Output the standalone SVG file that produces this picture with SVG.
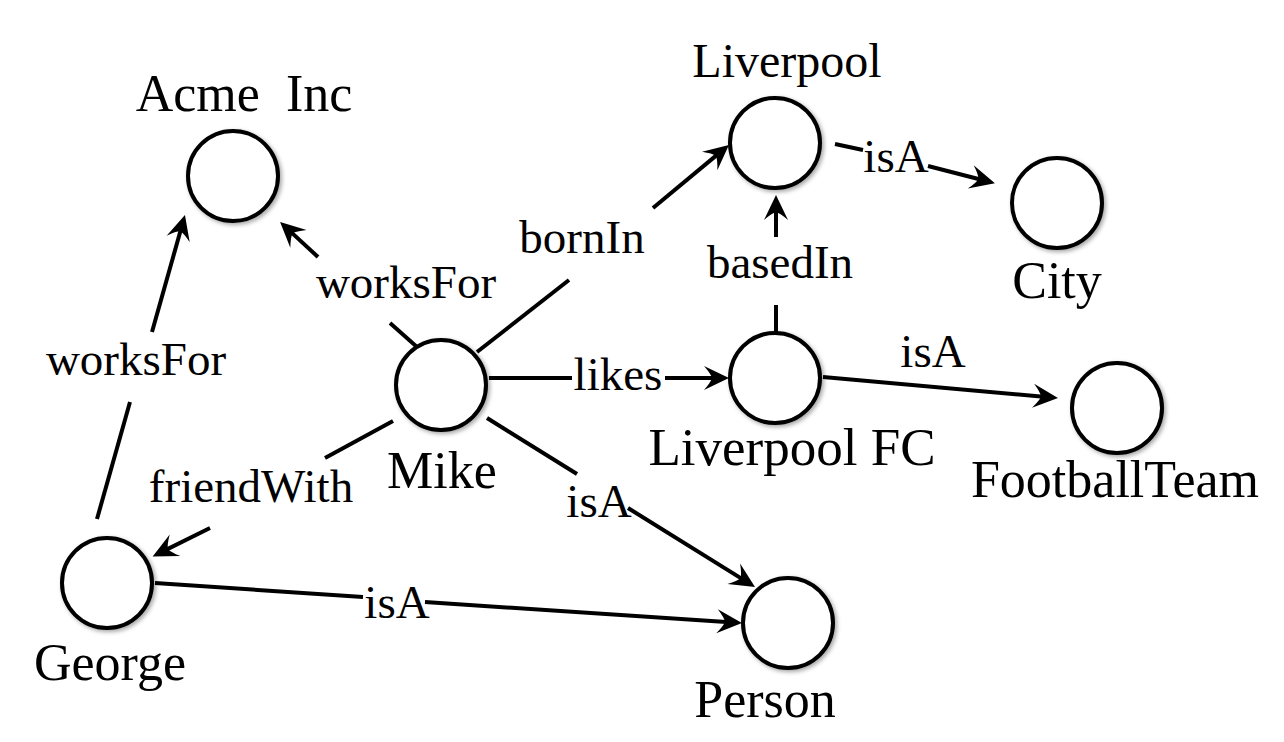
<svg xmlns="http://www.w3.org/2000/svg" width="1284" height="742" viewBox="0 0 1284 742">
<style>
.node circle{fill:#fff;stroke:#000;stroke-width:4;filter:url(#sh)}
text{font-family:"Liberation Serif","Times New Roman",serif;fill:#000;text-anchor:middle}
.nl{font-size:52px}
.el{font-size:47px}
.edge line{stroke:#000;stroke-width:4;fill:none}
.arr{marker-end:url(#ah)}
</style>
<defs>
<filter id="sh" x="-30%" y="-30%" width="160%" height="160%">
<feDropShadow dx="2" dy="2" stdDeviation="2" flood-color="#000" flood-opacity="0.35"/>
</filter>
<marker id="ah" markerUnits="userSpaceOnUse" viewBox="-26 -13 27 26" markerWidth="27" markerHeight="26" refX="-12" refY="0" orient="auto" overflow="visible">
<path d="M0,0 L-25,-12 Q-18,-4 -17,0 Q-18,4 -25,12 Z" fill="#000"/>
</marker>
</defs>
<rect width="1284" height="742" fill="#fff"/>
<g id="connectors" class="edge">
<line x1="417" y1="347" x2="390" y2="323"/>
<line class="arr" x1="318" y1="257" x2="288.9" y2="230.1"/>
<line x1="97" y1="519" x2="130" y2="402"/>
<line class="arr" x1="152" y1="332" x2="181.7" y2="226.5"/>
<line x1="393" y1="421" x2="325" y2="458"/>
<line class="arr" x1="210" y1="528" x2="163.4" y2="551.1"/>
<line x1="477" y1="352" x2="569" y2="280"/>
<line class="arr" x1="653" y1="208" x2="719.7" y2="152.6"/>
<line x1="489" y1="378" x2="572" y2="378"/>
<line class="arr" x1="665" y1="378" x2="717" y2="378"/>
<line x1="776" y1="332" x2="776" y2="305"/>
<line class="arr" x1="776" y1="237" x2="776" y2="207"/>
<line x1="835" y1="144" x2="863" y2="150"/>
<line class="arr" x1="928" y1="166" x2="983.3" y2="180.2"/>
<line class="arr" x1="823" y1="377" x2="1046" y2="396.9"/>
<line x1="487" y1="418" x2="577" y2="474"/>
<line class="arr" x1="628" y1="508" x2="744.8" y2="580.6"/>
<line x1="155" y1="583" x2="363" y2="597"/>
<line class="arr" x1="425" y1="602" x2="730" y2="622.2"/>
<text class="el" x="406" y="298">worksFor</text>
<text class="el" x="136" y="375">worksFor</text>
<text class="el" x="251" y="502">friendWith</text>
<text class="el" x="582" y="253">bornIn</text>
<text class="el" x="780" y="278">basedIn</text>
<text class="el" x="618" y="390">likes</text>
<text class="el" x="896" y="172">isA</text>
<text class="el" x="933" y="367">isA</text>
<text class="el" x="599" y="517">isA</text>
<text class="el" x="397" y="618">isA</text>
</g>
<g id="acme" class="node"><circle cx="233" cy="176" r="45"/><text class="nl" x="244" y="111">Acme&#160; Inc</text></g>
<g id="liverpool" class="node"><circle cx="775" cy="143" r="45"/><text class="nl" x="787" y="77" style="font-size:48px">Liverpool</text></g>
<g id="city" class="node"><circle cx="1057" cy="203" r="45"/><text class="nl" x="1057" y="298">City</text></g>
<g id="mike" class="node"><circle cx="441" cy="385" r="45"/><text class="nl" x="442" y="488">Mike</text></g>
<g id="liverpoolfc" class="node"><circle cx="775" cy="378" r="45"/><text class="nl" x="792" y="465" style="font-size:53px">Liverpool FC</text></g>
<g id="footballteam" class="node"><circle cx="1117" cy="408" r="45"/><text class="nl" x="1115" y="497">FootballTeam</text></g>
<g id="george" class="node"><circle cx="107" cy="583" r="45"/><text class="nl" x="110" y="680">George</text></g>
<g id="person" class="node"><circle cx="788" cy="623" r="45"/><text class="nl" x="765" y="717">Person</text></g>
</svg>
